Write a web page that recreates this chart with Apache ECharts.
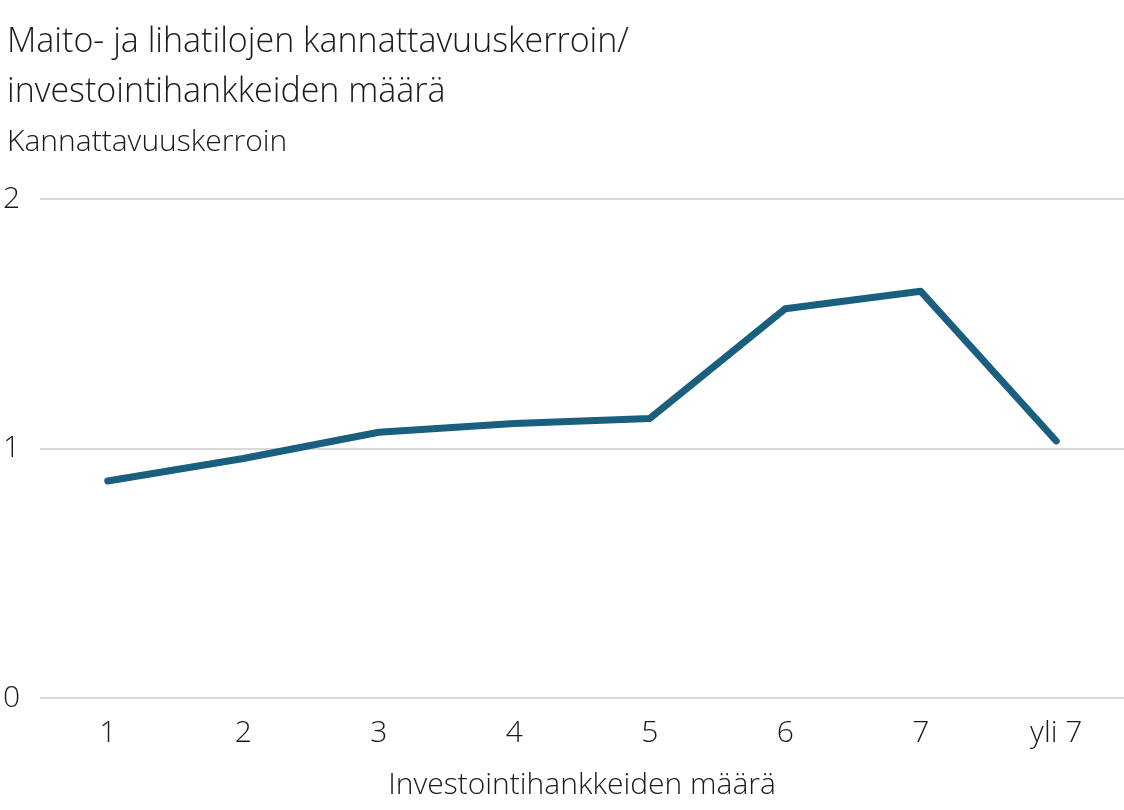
<!DOCTYPE html>
<html><head><meta charset="utf-8">
<script src="https://cdn.jsdelivr.net/npm/echarts@6/dist/echarts.min.js"></script>
<style>html,body{margin:0;background:#fff}#main{width:1124px;height:810px}</style>
</head><body><div id="main"></div>
<script>
const categories = ['1', '2', '3', '4', '5', '6', '7', 'yli 7'];
const kerroin = [0.87, 0.96, 1.065, 1.10, 1.12, 1.56, 1.63, 1.03];
const yTicks = [0, 1, 2];

const font = '"Open Sans", Lato, sans-serif';
const chart = echarts.init(document.getElementById('main'));
chart.setOption({
  animation: false,
  title: [
    {text: 'Maito- ja lihatilojen kannattavuuskerroin/\ninvestointihankkeiden määrä', left: 2, top: 12,
     textStyle: {fontFamily: font, fontWeight: 300, fontSize: 34, lineHeight: 50, color: '#1a1a1a'}},
    {text: 'Kannattavuuskerroin', left: 2, top: 122,
     textStyle: {fontFamily: font, fontWeight: 300, fontSize: 30, color: '#1a1a1a'}}
  ],
  grid: {left: 40, right: 0, top: 199, bottom: 112},
  xAxis: {
    type: 'category', data: categories, boundaryGap: true,
    axisLine: {show: false}, axisTick: {show: false},
    axisLabel: {fontFamily: font, fontWeight: 300, fontSize: 30, color: '#1a1a1a', margin: 20},
    name: 'Investointihankkeiden määrä', nameLocation: 'middle', nameGap: 72,
    nameTextStyle: {fontFamily: font, fontWeight: 300, fontSize: 30, color: '#1a1a1a'}
  },
  yAxis: {
    type: 'value', min: yTicks[0], max: yTicks[yTicks.length - 1], interval: 1,
    axisLabel: {fontFamily: font, fontWeight: 300, fontSize: 30, color: '#1a1a1a', align: 'left', margin: 37,
      formatter: v => yTicks.includes(v) ? String(v) : ''},
    splitLine: {lineStyle: {color: '#d9d9d9', width: 2}}
  },
  series: [{
    type: 'line', data: kerroin, symbol: 'none',
    lineStyle: {color: '#1b5f7e', width: 7, cap: 'round', join: 'round'}
  }]
});
</script></body></html>
